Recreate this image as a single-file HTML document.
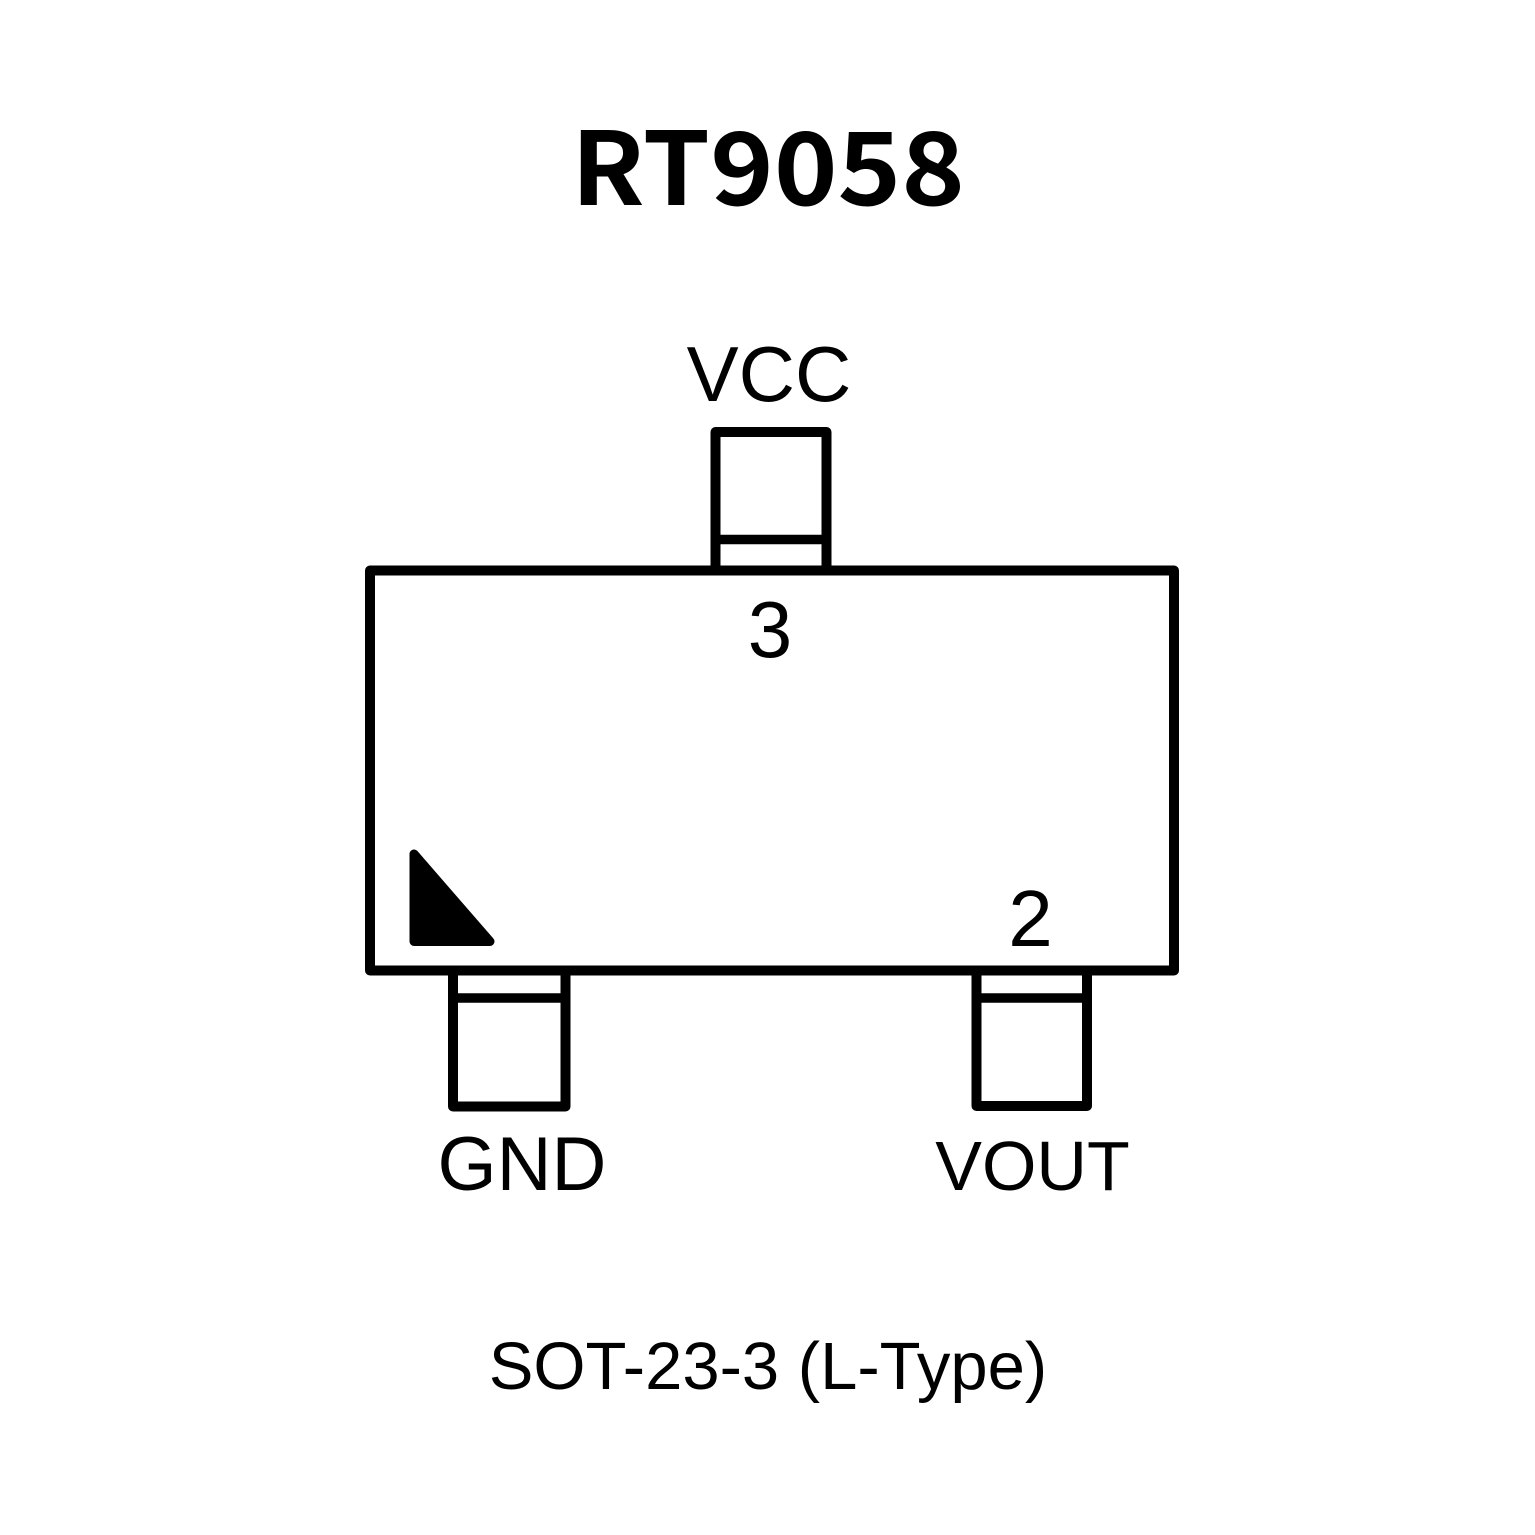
<!DOCTYPE html>
<html>
<head>
<meta charset="utf-8">
<style>
html,body{margin:0;padding:0;background:#fff;}
svg{display:block;}
</style>
</head>
<body>
<svg width="1535" height="1535" viewBox="0 0 1535 1535" xmlns="http://www.w3.org/2000/svg">
<rect x="0" y="0" width="1535" height="1535" fill="#fff"/>
<text x="768" y="205" text-anchor="middle" font-family="'Noto Sans CJK SC','DejaVu Sans',sans-serif" font-weight="700" font-size="101" textLength="394" lengthAdjust="spacingAndGlyphs" fill="#000">RT9058</text>

<g fill="none" stroke="#000" stroke-width="10" stroke-linejoin="round" stroke-linecap="butt">
  <rect x="370" y="570.5" width="804" height="400"/>
  <path d="M715.5 570 V432 H826.5 V570"/>
  <path d="M715.5 539.5 H826.5" stroke-width="9.5"/>
  <path d="M453 970 V1106.5 H565.5 V970"/>
  <path d="M453 998 H565.5" stroke-width="9.5"/>
  <path d="M976.5 970 V1106 H1087 V970"/>
  <path d="M976.5 998 H1087" stroke-width="9.5"/>
</g>

<polygon points="414,854 414,941.5 490,941.5" fill="#000" stroke="#000" stroke-width="9" stroke-linejoin="round"/>

<g font-family="'Liberation Sans',Arial,sans-serif" fill="#000" text-anchor="middle">
  <text x="769" y="401" font-size="78">VCC</text>
  <text x="770" y="657" font-size="80">3</text>
  <text x="1030.5" y="946" font-size="80">2</text>
  <text x="522" y="1190" font-size="76">GND</text>
  <text x="1032.5" y="1190" font-size="70">VOUT</text>
  <text x="768" y="1389" font-size="67">SOT-23-3 (L-Type)</text>
</g>
</svg>
</body>
</html>
